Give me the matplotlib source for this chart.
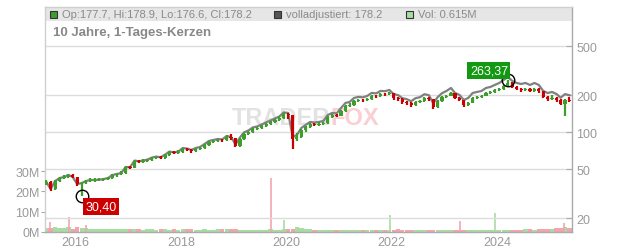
import matplotlib
matplotlib.use('Agg')
import matplotlib.pyplot as plt
import matplotlib.dates as mdates
from matplotlib.patches import Rectangle
from matplotlib.ticker import FixedLocator, NullLocator, FixedFormatter
import numpy as np
import pandas as pd

plt.rcParams['font.family'] = ['Liberation Sans', 'DejaVu Sans']

# monthly candles, Jun 2015 .. May 2025
first_open = 38.0
closes = [39.3, 34.4, 40.0, 42.3, 43.1, 44.8, 43.1,
          37.8, 38.5, 40.0, 40.8, 40.8, 41.0, 41.5, 42.3, 44.8, 45.6, 46.5, 52.0,
          51.5, 58.2, 57.5, 58.2, 59.3, 61.6, 62.7, 62.0, 65.1, 68.9, 68.0, 68.9,
          72.8, 72.0, 70.2, 72.8, 74.2, 78.5, 83.1, 84.6, 86.2, 85.5, 91.2, 89.5,
          77.1, 87.9, 96.5, 100.2, 106.0, 108.0, 112.1, 116.4, 120.8, 125.4, 130.2, 140.4,
          137.8, 87.9, 91.2, 104.0, 110.0, 116.4, 115.0, 116.4, 118.6, 132.6, 137.8, 136.5,
          148.4, 163.0, 166.0, 179.0, 182.4, 181.0, 185.8, 196.6, 195.0, 204.1, 203.0, 207.8,
          189.3, 185.8, 175.7, 172.4, 166.0, 175.7, 179.0, 189.3, 185.8, 159.9, 179.0, 193.0,
          196.6, 207.8, 189.3, 182.4, 166.0, 172.4, 189.3, 193.0, 196.6, 207.8, 211.9, 220.0,
          224.2, 237.2, 251.0, 232.8, 224.2, 220.0, 224.2, 216.0, 224.2, 216.0, 193.0, 185.8,
          189.3, 182.4, 170.0, 182.0, 178.2]
highs = [40.5, 40.0, 41.0, 43.5, 44.5, 46.0, 45.5,
         43.5, 39.5, 41.0, 42.0, 42.0, 42.0, 42.5, 43.5, 45.5, 46.5, 48.0, 53.5,
         53.5, 59.5, 59.5, 60.0, 61.0, 63.0, 64.5, 64.0, 66.5, 70.5, 70.5, 71.0,
         74.5, 74.5, 73.0, 74.0, 76.0, 80.0, 85.0, 87.0, 88.5, 88.5, 94.0, 96.0,
         90.0, 89.5, 98.5, 103.0, 109.0, 111.0, 115.0, 119.5, 124.0, 128.5, 134.0, 145.0,
         143.0, 139.0, 98.0, 106.0, 113.0, 119.0, 119.5, 120.0, 122.0, 136.0, 141.5, 141.5,
         152.0, 167.0, 171.0, 183.0, 187.0, 187.0, 190.0, 201.0, 201.0, 209.0, 209.0, 213.0,
         209.0, 193.0, 189.0, 180.0, 176.0, 180.0, 184.0, 194.0, 193.0, 187.0, 182.0, 197.0,
         201.0, 212.0, 209.0, 192.0, 184.0, 176.0, 193.0, 198.0, 201.0, 212.0, 217.0, 225.0,
         230.0, 243.0, 263.37, 254.0, 236.0, 229.0, 230.0, 228.0, 229.0, 227.0, 218.0, 196.0,
         200.0, 193.0, 186.0, 186.0, 192.0]
lows = [37.0, 33.5, 34.0, 39.5, 41.5, 42.5, 42.0,
        36.5, 30.4, 37.5, 39.0, 39.5, 39.8, 40.0, 40.5, 41.5, 43.5, 44.5, 46.0,
        50.0, 51.0, 56.0, 56.5, 57.0, 58.5, 60.5, 60.5, 61.0, 64.0, 66.0, 66.5,
        68.0, 70.0, 67.5, 69.0, 71.0, 73.0, 77.5, 82.0, 83.0, 83.0, 85.0, 86.0,
        75.0, 76.0, 87.0, 95.0, 99.0, 104.0, 106.0, 110.5, 114.5, 119.0, 123.5, 129.0,
        128.0, 72.5, 84.0, 89.0, 101.0, 108.0, 112.0, 111.5, 113.5, 117.5, 130.0, 132.0,
        135.0, 146.0, 159.0, 164.0, 175.0, 176.0, 178.0, 183.0, 190.0, 193.0, 197.0, 199.0,
        184.0, 180.0, 170.0, 167.0, 160.0, 164.0, 172.0, 177.0, 180.0, 155.0, 158.0, 177.0,
        190.0, 195.0, 185.0, 178.0, 161.0, 164.0, 171.0, 186.0, 190.0, 195.0, 204.0, 209.0,
        216.0, 222.0, 235.0, 228.0, 219.0, 214.0, 217.0, 211.0, 214.0, 210.0, 188.0, 180.0,
        183.0, 176.0, 165.0, 135.0, 175.0]
# monthly average volume in millions
volumes = [2.2, 2.0, 2.4, 1.9, 1.8, 2.3, 1.7,
           2.4, 2.2, 1.8, 1.6, 1.7, 1.5, 1.6, 1.4, 1.7, 1.5, 1.6, 1.5,
           1.4, 1.3, 1.5, 1.2, 1.4, 1.3, 1.2, 1.3, 1.4, 1.2, 1.3, 1.2,
           1.3, 1.5, 1.4, 1.2, 1.1, 1.3, 1.2, 1.1, 1.3, 1.5, 1.4, 1.6,
           1.3, 1.2, 1.2, 1.1, 1.2, 1.1, 1.0, 1.2, 1.4, 1.1, 1.0, 1.3,
           1.4, 1.6, 2.6, 1.8, 1.4, 1.3, 1.2, 1.1, 1.2, 1.1, 1.2, 1.1,
           1.0, 1.1, 1.0, 0.9, 1.0, 0.9, 0.8, 0.9, 1.0, 0.9, 1.0, 1.2,
           1.2, 1.3, 1.1, 1.0, 1.2, 1.1, 0.9, 1.0, 1.1, 1.2, 1.1, 1.0,
           1.0, 1.1, 1.0, 1.1, 0.9, 1.0, 0.9, 1.0, 1.0, 1.1, 1.0, 1.2,
           1.1, 1.2, 1.1, 1.2, 1.1, 1.2, 1.3, 1.4, 1.2, 1.3, 1.5, 1.4,
           1.7, 1.8, 2.1, 2.4, 1.9]
# single-day volume spikes
spike_dates = ['2015-07-08', '2015-11-20', '2016-03-18', '2019-09-20', '2019-12-20',
               '2021-12-17', '2023-04-21', '2023-12-15', '2025-04-07']
spike_vols = [4.9, 7.2, 3.4, 26.4, 5.9, 8.4, 5.6, 9.4, 4.4]
spike_up = [False, False, False, False, True, True, False, True, False]
# adjustment factor of the "volladjustiert" line per year
adj_years = [2015, 2016, 2017, 2018, 2019, 2020, 2021, 2022, 2023, 2024, 2025]
adj_factors = [1.0, 1.0, 1.008, 1.02, 1.03, 1.04, 1.06, 1.075, 1.1, 1.12, 1.12]

last_ohlc = [177.7, 178.9, 176.6, 178.2]
last_adj = 178.2
last_vol = 0.615

price_ticks = [20, 50, 100, 200, 500]
vol_ticks = [0, 10, 20, 30]
year_ticks = [2016, 2018, 2020, 2022, 2024]

GREEN = '#3d9e2c'
RED = '#cc0000'
GRID = '#dcdcdc'
TXT = '#999999'

dates = pd.date_range('2015-06-01', periods=len(closes), freq='MS') + pd.Timedelta(days=14)
opens = [first_open] + closes[:-1]
up = [c >= o for o, c in zip(opens, closes)]
adj_map = dict(zip(adj_years, adj_factors))
adj = [c * adj_map[d.year] for d, c in zip(dates, closes)]

fig = plt.figure(figsize=(6.32, 2.53), dpi=100)
axv = fig.add_axes([45 / 632, 20 / 253, 527 / 632, 225 / 253])
axp = axv.twinx()
axp.set_zorder(axv.get_zorder() + 1)
axp.patch.set_visible(False)

# volume
axv.bar(dates, [v * 1e6 for v in volumes], width=30,
        color=['#a9dca4' if u else '#f2a5ad' for u in up], linewidth=0)
axv.vlines(pd.to_datetime(spike_dates), 0, [v * 1e6 for v in spike_vols],
           colors=['#a9dca4' if u else '#f2a5ad' for u in spike_up], linewidth=1.2)
axv.set_ylim(0, 110.8e6)
axv.yaxis.set_major_locator(FixedLocator([v * 1e6 for v in vol_ticks]))
axv.yaxis.set_major_formatter(FixedFormatter(['%dM' % v for v in vol_ticks]))
axv.tick_params(axis='y', direction='out', length=3, color='#aaaaaa',
                labelcolor=TXT, labelsize=9, pad=1)
for s in axv.spines.values():
    s.set_visible(False)

# price
axp.set_yscale('log')
axp.set_ylim(15.4, 1042)
axp.set_axisbelow(True)
axp.plot(dates, adj, color='#808080', lw=1.6, zorder=2)
wick_cols = [GREEN if u else RED for u in up]
axp.vlines(dates, lows, highs, colors=wick_cols, lw=1.6, zorder=3)
body_lo = [min(o, c) for o, c in zip(opens, closes)]
body_h = [max(abs(c - o), 0.3) for o, c in zip(opens, closes)]
axp.bar(dates, body_h, bottom=body_lo, width=22, color=wick_cols, linewidth=0, zorder=3)

axp.yaxis.set_major_locator(FixedLocator(price_ticks))
axp.yaxis.set_major_formatter(FixedFormatter([str(t) for t in price_ticks]))
axp.yaxis.set_minor_locator(NullLocator())
axp.tick_params(axis='y', direction='in', length=4, color='#aaaaaa',
                labelcolor=TXT, labelsize=9, pad=3)
axp.grid(True, color=GRID, lw=1)

axp.set_xlim(pd.Timestamp('2015-06-06'), pd.Timestamp('2025-06-02'))
axp.xaxis.set_major_locator(FixedLocator([mdates.date2num(pd.Timestamp(y, 1, 1)) for y in year_ticks]))
axp.xaxis.set_major_formatter(FixedFormatter([str(y) for y in year_ticks]))
axv.tick_params(axis='x', length=0, labelcolor=TXT, labelsize=9, pad=3)
axp.tick_params(axis='x', length=0)

for name, s in axp.spines.items():
    s.set_color('#cfcfcf')
    s.set_linewidth(1)
axp.spines['right'].set_color('#aaaaaa')
axp.spines['bottom'].set_color('#aaaaaa')

# legend band
axp.add_patch(Rectangle((0, 1 - 14 / 225), 1, 14 / 225, transform=axp.transAxes,
                        facecolor='#e6e6e6', edgecolor='none', zorder=0.2))
ly = 1 - 7 / 225
items = [(5, GREEN, 'Op:%.1f, Hi:%.1f, Lo:%.1f, Cl:%.1f' % tuple(last_ohlc)),
         (229, '#555555', 'volladjustiert: %.1f' % last_adj),
         (361, '#a9dca4', 'Vol: %.3fM' % last_vol)]
for px, col, txt in items:
    axp.add_patch(Rectangle((px / 527, ly - 3.5 / 225), 7 / 527, 7 / 225, transform=axp.transAxes,
                            facecolor=col, edgecolor='#333333', lw=0.8, zorder=5))
    axp.text((px + 12) / 527, ly, txt, transform=axp.transAxes, ha='left', va='center',
             fontsize=8, color='#8a8a8a', zorder=5)

axp.text(8 / 527, 1 - 25 / 225, '10 Jahre, 1-Tages-Kerzen', transform=axp.transAxes,
         ha='left', va='center', fontsize=9.5, fontweight='bold', color='#888888', zorder=5)

# watermark
axp.text(285 / 527, 0.51, 'TRADER', transform=axp.transAxes, ha='right', va='center',
         fontsize=17, fontweight='bold', color='#e2e2e2', zorder=0.3)
axp.text(285 / 527, 0.51, 'FOX', transform=axp.transAxes, ha='left', va='center',
         fontsize=17, fontweight='bold', color='#f8cfd2', zorder=0.3)

# min / max markers
imin = int(np.argmin(lows))
imax = int(np.argmax(highs))
axp.plot([dates[imin]], [lows[imin]], 'o', mfc='none', mec='black', ms=9, mew=1, zorder=6)
axp.plot([dates[imax]], [highs[imax]], 'o', mfc='none', mec='black', ms=9, mew=1, zorder=6)
axp.annotate(('%.2f' % lows[imin]).replace('.', ','), (dates[imin], lows[imin]),
             xytext=(4, -11), textcoords='offset pixels', ha='left', va='center',
             fontsize=9, color='white', zorder=7,
             bbox=dict(boxstyle='square,pad=0.2', fc=RED, ec='none'))
axp.annotate(('%.2f' % highs[imax]).replace('.', ','), (dates[imax], highs[imax]),
             xytext=(-19, 10), textcoords='offset pixels', ha='center', va='center',
             fontsize=9, color='white', zorder=7,
             bbox=dict(boxstyle='square,pad=0.2', fc='#119911', ec='none'))

fig.savefig('out.png', dpi=100)
